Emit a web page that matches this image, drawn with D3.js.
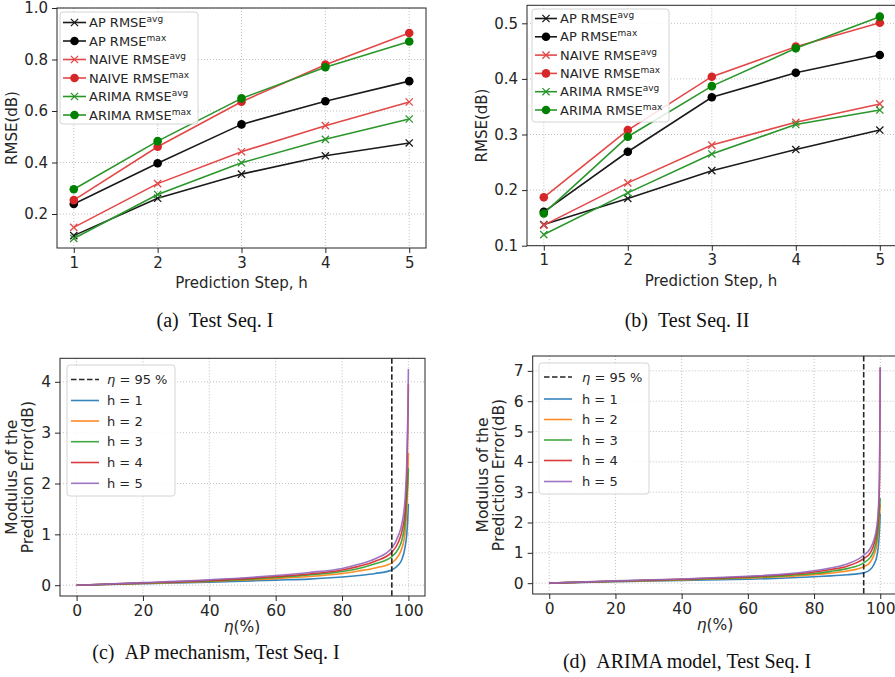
<!DOCTYPE html>
<html>
<head>
<meta charset="utf-8">
<script src="https://cdn.jsdelivr.net/npm/d3@7"></script>
<style>
body { margin: 0; background: #fff; }
svg text { font-family: "DejaVu Sans", sans-serif; fill: #262626; }
svg text.cap { font-family: "Liberation Serif", serif; fill: #111; }
</style>
</head>
<body>
<svg id="fig" width="895" height="677"></svg>
<script>
// ---- data ----
var steps = [1, 2, 3, 4, 5];

// (a) Test Seq. I
var apAvgA = [0.116, 0.261, 0.355, 0.426, 0.476];
var apMaxA = [0.239, 0.397, 0.548, 0.638, 0.716];
var naiveAvgA = [0.148, 0.318, 0.442, 0.543, 0.635];
var naiveMaxA = [0.254, 0.461, 0.636, 0.780, 0.903];
var arimaAvgA = [0.105, 0.276, 0.399, 0.490, 0.569];
var arimaMaxA = [0.296, 0.483, 0.649, 0.770, 0.870];

// (b) Test Seq. II
var apAvgB = [0.138, 0.185, 0.235, 0.273, 0.308];
var apMaxB = [0.161, 0.269, 0.367, 0.411, 0.443];
var naiveAvgB = [0.137, 0.213, 0.281, 0.322, 0.355];
var naiveMaxB = [0.187, 0.308, 0.404, 0.458, 0.501];
var arimaAvgB = [0.120, 0.195, 0.265, 0.318, 0.344];
var arimaMaxB = [0.158, 0.296, 0.387, 0.455, 0.512];

// (c),(d) sorted modulus of prediction error vs. percentile
var eta = [0, 20, 40, 60, 70, 80, 85, 90, 95, 97, 98, 99, 99.5, 99.8, 100];
var apErr1 = [0, 0.03, 0.06, 0.10, 0.12, 0.16, 0.19, 0.23, 0.30, 0.40, 0.50, 0.75, 1.0, 1.3, 1.6];
var apErr2 = [0, 0.035, 0.075, 0.13, 0.17, 0.23, 0.28, 0.34, 0.44, 0.58, 0.72, 1.05, 1.5, 2.0, 2.6];
var apErr3 = [0, 0.04, 0.085, 0.15, 0.20, 0.27, 0.33, 0.42, 0.56, 0.72, 0.88, 1.25, 1.7, 2.0, 2.3];
var apErr4 = [0, 0.045, 0.095, 0.17, 0.22, 0.30, 0.37, 0.47, 0.65, 0.85, 1.05, 1.45, 2.1, 3.0, 3.95];
var apErr5 = [0, 0.05, 0.105, 0.19, 0.25, 0.33, 0.41, 0.52, 0.73, 0.98, 1.2, 1.7, 2.4, 3.3, 4.25];

var arErr1 = [0, 0.05, 0.09, 0.13, 0.16, 0.21, 0.24, 0.28, 0.34, 0.45, 0.60, 0.90, 1.3, 1.8, 2.3];
var arErr2 = [0, 0.06, 0.11, 0.17, 0.21, 0.28, 0.33, 0.40, 0.54, 0.70, 0.90, 1.3, 1.8, 2.3, 2.6];
var arErr3 = [0, 0.065, 0.12, 0.19, 0.24, 0.32, 0.39, 0.48, 0.67, 0.85, 1.05, 1.5, 2.0, 2.5, 2.8];
var arErr4 = [0, 0.07, 0.13, 0.21, 0.27, 0.37, 0.45, 0.56, 0.81, 1.0, 1.25, 1.75, 2.4, 3.5, 7.10];
var arErr5 = [0, 0.075, 0.14, 0.23, 0.29, 0.41, 0.50, 0.63, 0.92, 1.15, 1.4, 1.9, 2.6, 3.8, 7.13];

var hLabels = ['h = 1', 'h = 2', 'h = 3', 'h = 4', 'h = 5'];
var tab10 = ['#1f77b4', '#ff7f0e', '#2ca02c', '#d62728', '#9467bd'];

var svg = d3.select('#fig');
var clipId = 0;

function makeAxes(p) {
    var x = d3.scaleLinear().domain(p.xDom).range([p.x0, p.x1]);
    var y = d3.scaleLinear().domain(p.yDom).range([p.y1, p.y0]);
    var g = svg.append('g');

    // dotted grid
    g.selectAll('.gx').data(p.xTicks).enter().append('line')
        .attr('x1', d => x(d)).attr('x2', d => x(d))
        .attr('y1', p.y0).attr('y2', p.y1)
        .attr('stroke', '#b0b0b0').attr('stroke-width', 0.8).attr('stroke-dasharray', '1,2');
    g.selectAll('.gy').data(p.yTicks).enter().append('line')
        .attr('x1', p.x0).attr('x2', p.x1)
        .attr('y1', d => y(d)).attr('y2', d => y(d))
        .attr('stroke', '#b0b0b0').attr('stroke-width', 0.8).attr('stroke-dasharray', '1,2');

    var ax = g.append('g').attr('transform', 'translate(0,' + p.y1 + ')')
        .call(d3.axisBottom(x).tickValues(p.xTicks).tickSize(5).tickPadding(4).tickFormat(d3.format('d')));
    var ay = g.append('g').attr('transform', 'translate(' + p.x0 + ',0)')
        .call(d3.axisLeft(y).tickValues(p.yTicks).tickSize(5).tickPadding(4).tickFormat(p.yFmt));
    [ax, ay].forEach(function (a) {
        a.select('.domain').remove();
        a.attr('font-size', null).attr('font-family', null);
        a.selectAll('.tick text').style('font-size', p.fs + 'px');
        a.selectAll('.tick line').attr('stroke', '#262626');
    });

    g.append('rect').attr('x', p.x0).attr('y', p.y0)
        .attr('width', p.x1 - p.x0).attr('height', p.y1 - p.y0)
        .attr('fill', 'none').attr('stroke', '#262626').attr('stroke-width', 1);

    clipId += 1;
    svg.append('clipPath').attr('id', 'clip' + clipId).append('rect')
        .attr('x', p.x0).attr('y', p.y0).attr('width', p.x1 - p.x0).attr('height', p.y1 - p.y0);
    var plot = g.append('g').attr('clip-path', 'url(#clip' + clipId + ')');
    return { g: g, plot: plot, x: x, y: y };
}

function xMarker(sel, s) {
    return sel.append('path').attr('d', 'M' + (-s) + ',' + (-s) + 'L' + s + ',' + s + 'M' + (-s) + ',' + s + 'L' + s + ',' + (-s));
}

function rmseSeries(a, b, c, d, e, f) {
    return [
        { name: 'AP RMSE', sup: 'avg', vals: a, line: '#1a1a1a', mark: '#1a1a1a', m: 'x' },
        { name: 'AP RMSE', sup: 'max', vals: b, line: '#1a1a1a', mark: '#000', m: 'o' },
        { name: 'NAIVE RMSE', sup: 'avg', vals: c, line: '#e34848', mark: '#e34848', m: 'x' },
        { name: 'NAIVE RMSE', sup: 'max', vals: d, line: '#e34848', mark: '#d62728', m: 'o' },
        { name: 'ARIMA RMSE', sup: 'avg', vals: e, line: '#2a962a', mark: '#2a962a', m: 'x' },
        { name: 'ARIMA RMSE', sup: 'max', vals: f, line: '#2a962a', mark: '#008000', m: 'o' }
    ];
}

function drawLegendBox(g, b) {
    g.append('rect').attr('x', b.x).attr('y', b.y).attr('width', b.w).attr('height', b.h)
        .attr('rx', 3).attr('fill', '#fff').attr('fill-opacity', 0.85)
        .attr('stroke', '#d4d4d4').attr('stroke-width', 1);
}

function drawRmsePanel(p, series, leg) {
    var A = makeAxes(p);
    var line = d3.line().x((d, i) => A.x(steps[i])).y(d => A.y(d));
    series.forEach(function (s) {
        A.g.append('path').datum(s.vals).attr('d', line)
            .attr('fill', 'none').attr('stroke', s.line).attr('stroke-width', 1.6);
        s.vals.forEach(function (v, i) {
            var px = A.x(steps[i]), py = A.y(v);
            if (s.m === 'o') {
                A.g.append('circle').attr('cx', px).attr('cy', py).attr('r', 4.3).attr('fill', s.mark);
            } else {
                xMarker(A.g, 3.6).attr('transform', 'translate(' + px + ',' + py + ')')
                    .attr('stroke', s.mark).attr('stroke-width', 1.3).attr('fill', 'none');
            }
        });
    });
    // legend
    drawLegendBox(A.g, leg);
    series.forEach(function (s, i) {
        var ry = leg.row0 + i * leg.dy;
        var lg = A.g.append('g');
        lg.append('line').attr('x1', leg.lx0).attr('x2', leg.lx1).attr('y1', ry).attr('y2', ry)
            .attr('stroke', s.line).attr('stroke-width', 1.6);
        var cx = (leg.lx0 + leg.lx1) / 2;
        if (s.m === 'o') {
            lg.append('circle').attr('cx', cx).attr('cy', ry).attr('r', 4.3).attr('fill', s.mark);
        } else {
            xMarker(lg, 3.6).attr('transform', 'translate(' + cx + ',' + ry + ')')
                .attr('stroke', s.mark).attr('stroke-width', 1.3);
        }
        var t = lg.append('text').attr('x', leg.tx).attr('y', ry + 4.5).style('font-size', '13px');
        t.append('tspan').text(s.name);
        t.append('tspan').attr('dy', -5).style('font-size', '9px').text(s.sup);
    });
    // labels
    svg.append('text').attr('x', (p.x0 + Math.min(p.x1, 895)) / 2 + p.xlOff).attr('y', p.y1 + 40)
        .attr('text-anchor', 'middle').style('font-size', p.fs + 'px').text('Prediction Step, h');
    svg.append('text').attr('transform', 'translate(' + p.ylx + ',' + (p.y0 + p.y1) / 2 + ') rotate(-90)')
        .attr('text-anchor', 'middle').style('font-size', p.fs + 'px').text('RMSE(dB)');
}

function drawErrPanel(p, curves, leg) {
    var A = makeAxes(p);
    var line = d3.line().x((d, i) => A.x(eta[i])).y(d => A.y(d)).curve(d3.curveMonotoneX);
    curves.forEach(function (c, i) {
        A.plot.append('path').datum(c).attr('d', line)
            .attr('fill', 'none').attr('stroke', tab10[i]).attr('stroke-width', 1.6).attr('stroke-opacity', 0.9);
    });
    A.plot.append('line').attr('x1', A.x(95)).attr('x2', A.x(95)).attr('y1', p.y0).attr('y2', p.y1)
        .attr('stroke', '#262626').attr('stroke-width', 1.6).attr('stroke-dasharray', '5.5,2.5');

    drawLegendBox(A.g, leg);
    var rows = A.g.append('g');
    rows.append('line').attr('x1', leg.lx0).attr('x2', leg.lx1).attr('y1', leg.rows[0]).attr('y2', leg.rows[0])
        .attr('stroke', '#262626').attr('stroke-width', 1.6).attr('stroke-dasharray', '5.5,2.5');
    var t0 = rows.append('text').attr('x', leg.tx).attr('y', leg.rows[0] + 4.5).style('font-size', '13px');
    t0.append('tspan').style('font-style', 'italic').text('\u03b7');
    t0.append('tspan').text(' = 95 %');
    hLabels.forEach(function (h, i) {
        var ry = leg.rows[i + 1];
        rows.append('line').attr('x1', leg.lx0).attr('x2', leg.lx1).attr('y1', ry).attr('y2', ry)
            .attr('stroke', tab10[i]).attr('stroke-width', 1.6).attr('stroke-opacity', 0.9);
        rows.append('text').attr('x', leg.tx).attr('y', ry + 4.5).style('font-size', '13px').text(h);
    });

    var xl = svg.append('text').attr('x', p.xlx).attr('y', p.y1 + 36)
        .attr('text-anchor', 'middle').style('font-size', p.fs + 'px');
    xl.append('tspan').style('font-style', 'italic').text('\u03b7');
    xl.append('tspan').text('(%)');
    var yl = svg.append('text').attr('transform', 'translate(' + p.ylx + ',' + (p.y0 + p.y1) / 2 + ') rotate(-90)')
        .attr('text-anchor', 'middle').style('font-size', p.fs + 'px');
    yl.append('tspan').attr('x', 0).attr('dy', 0).text('Modulus of the');
    yl.append('tspan').attr('x', 0).attr('dy', '1.02em').text('Prediction Error(dB)');
}

var f1 = d3.format('.1f');

drawRmsePanel({
    x0: 57, x1: 426, y0: 8, y1: 248, xDom: [0.8, 5.2], yDom: [0.068, 1.0],
    xTicks: steps, yTicks: [0.2, 0.4, 0.6, 0.8, 1.0], yFmt: f1, fs: 15, ylx: 17, xlOff: 0
}, rmseSeries(apAvgA, apMaxA, naiveAvgA, naiveMaxA, arimaAvgA, arimaMaxA),
    { x: 60, y: 12, w: 138, h: 112, row0: 22.5, dy: 18.5, lx0: 63, lx1: 86, tx: 89 });

drawRmsePanel({
    x0: 527, x1: 896.6, y0: 5.3, y1: 245.7, xDom: [0.8, 5.2], yDom: [0.1, 0.5324],
    xTicks: steps, yTicks: [0.1, 0.2, 0.3, 0.4, 0.5], yFmt: f1, fs: 15, ylx: 487, xlOff: 0
}, rmseSeries(apAvgB, apMaxB, naiveAvgB, naiveMaxB, arimaAvgB, arimaMaxB),
    { x: 532, y: 9, w: 137, h: 113, row0: 18.5, dy: 18.3, lx0: 535, lx1: 557, tx: 560 });

drawErrPanel({
    x0: 60, x1: 425, y0: 358.3, y1: 596, xDom: [-5, 105], yDom: [-0.2125, 4.4625],
    xTicks: [0, 20, 40, 60, 80, 100], yTicks: [0, 1, 2, 3, 4], yFmt: d3.format('d'), fs: 15.5,
    ylx: 17, xlx: 242
}, [apErr1, apErr2, apErr3, apErr4, apErr5],
    { x: 67, y: 365, w: 108, h: 131, rows: [379.5, 400.5, 421, 441.7, 462.5, 483.3], lx0: 71, lx1: 99, tx: 107 });

drawErrPanel({
    x0: 532.7, x1: 896.8, y0: 356, y1: 594, xDom: [-5, 105], yDom: [-0.357, 7.49],
    xTicks: [0, 20, 40, 60, 80, 100], yTicks: [0, 1, 2, 3, 4, 5, 6, 7], yFmt: d3.format('d'), fs: 15.5,
    ylx: 488, xlx: 715
}, [arErr1, arErr2, arErr3, arErr4, arErr5],
    { x: 539, y: 363, w: 110, h: 131, rows: [377, 399, 419.5, 440, 460.5, 481.5], lx0: 544, lx1: 572, tx: 582 });

// sub-captions
var caps = [
    { t: '(a)\u2002Test Seq. I', x: 215, y: 327 },
    { t: '(b)\u2002Test Seq. II', x: 687, y: 327 },
    { t: '(c)\u2002AP mechanism, Test Seq. I', x: 216, y: 659 },
    { t: '(d)\u2002ARIMA model, Test Seq. I', x: 687, y: 668 }
];
svg.selectAll('.cap').data(caps).enter().append('text').attr('class', 'cap')
    .attr('x', d => d.x).attr('y', d => d.y).attr('text-anchor', 'middle')
    .style('font-size', '20px').text(d => d.t);
</script>
</body>
</html>
